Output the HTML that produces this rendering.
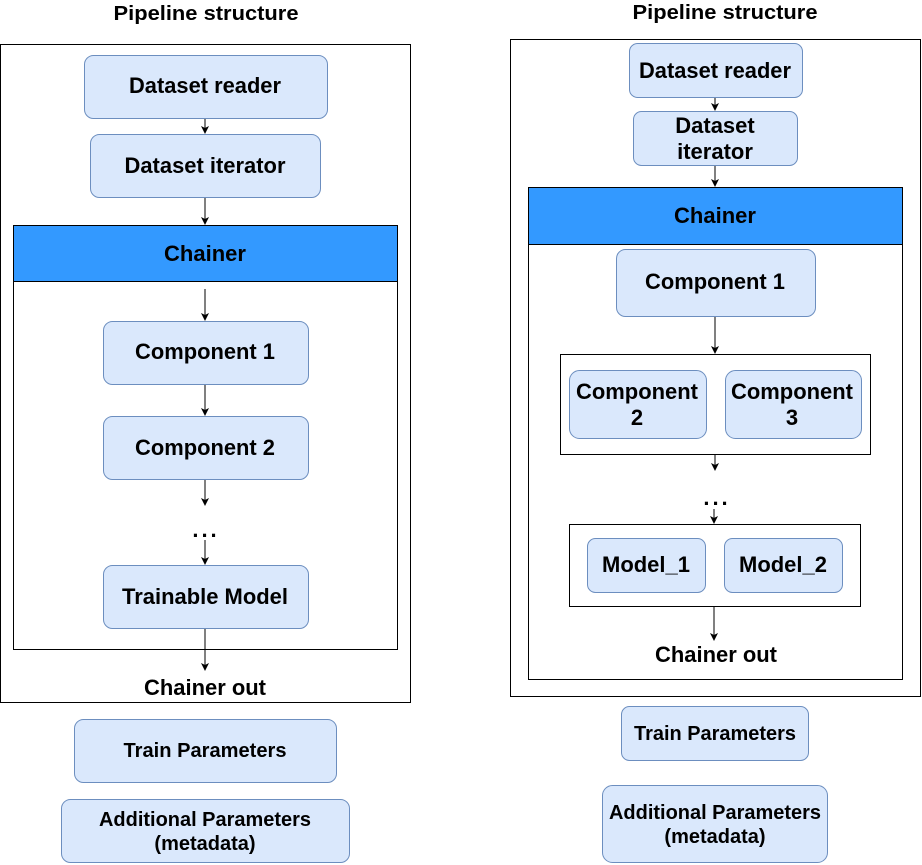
<!DOCTYPE html>
<html><head><meta charset="utf-8"><style>
html,body{margin:0;padding:0;background:#fff;}
svg{display:block;}
text{font-family:"Liberation Sans",sans-serif;font-weight:bold;fill:#000;text-anchor:middle;}
.b{fill:#dae8fc;stroke:#6c8ebf;stroke-width:1;}
.r{fill:none;stroke:#000;stroke-width:1;}
.a{stroke:#000;stroke-width:1;fill:none;}
</style></head><body>
<svg width="922" height="865" viewBox="0 0 922 865" xmlns="http://www.w3.org/2000/svg">
<defs><marker id="m" markerWidth="8" markerHeight="8" refX="7" refY="4" orient="auto" markerUnits="userSpaceOnUse"><path d="M0,0 L8,4 L0,8 L2,4 Z" fill="#000"/></marker></defs>

<!-- LEFT -->
<text x="206" y="20" font-size="20" textLength="185" lengthAdjust="spacingAndGlyphs">Pipeline structure</text>
<rect class="r" x="0.5" y="44.5" width="410" height="658" stroke="#444"/>
<rect class="b" x="84.5" y="55.5" width="243" height="63" rx="9"/>
<text x="205" y="93" font-size="22" textLength="152" lengthAdjust="spacingAndGlyphs">Dataset reader</text>
<line class="a" x1="205" y1="119" x2="205" y2="133" marker-end="url(#m)"/>
<rect class="b" x="90.5" y="134.5" width="230" height="63" rx="9"/>
<text x="205" y="173" font-size="22" textLength="161" lengthAdjust="spacingAndGlyphs">Dataset iterator</text>
<line class="a" x1="205" y1="198" x2="205" y2="224" marker-end="url(#m)"/>
<rect class="r" x="13.5" y="225.5" width="384" height="424"/>
<rect x="13.5" y="225.5" width="384" height="56" fill="#3399ff" stroke="#000"/>
<text x="205" y="261" font-size="22">Chainer</text>
<line class="a" x1="205" y1="289" x2="205" y2="320" marker-end="url(#m)"/>
<rect class="b" x="103.5" y="321.5" width="205" height="63" rx="9"/>
<text x="205" y="359" font-size="22" textLength="140" lengthAdjust="spacingAndGlyphs">Component 1</text>
<line class="a" x1="205" y1="385" x2="205" y2="415" marker-end="url(#m)"/>
<rect class="b" x="103.5" y="416.5" width="205" height="63" rx="9"/>
<text x="205" y="455" font-size="22" textLength="140" lengthAdjust="spacingAndGlyphs">Component 2</text>
<line class="a" x1="205" y1="480" x2="205" y2="505" marker-end="url(#m)"/>
<text x="206" y="537" font-size="22" letter-spacing="3">...</text>
<line class="a" x1="205" y1="540" x2="205" y2="564" marker-end="url(#m)"/>
<rect class="b" x="103.5" y="565.5" width="205" height="63" rx="9"/>
<text x="205" y="604" font-size="22" textLength="166" lengthAdjust="spacingAndGlyphs">Trainable Model</text>
<line class="a" x1="205" y1="629" x2="205" y2="670" marker-end="url(#m)"/>
<text x="205" y="695" font-size="22" textLength="122" lengthAdjust="spacingAndGlyphs">Chainer out</text>
<rect class="b" x="74.5" y="719.5" width="262" height="63" rx="9"/>
<text x="205" y="757" font-size="20" textLength="163" lengthAdjust="spacingAndGlyphs">Train Parameters</text>
<rect class="b" x="61.5" y="799.5" width="288" height="63" rx="9"/>
<text x="205" y="826" font-size="20" textLength="212" lengthAdjust="spacingAndGlyphs">Additional Parameters</text>
<text x="205" y="850" font-size="20">(metadata)</text>

<!-- RIGHT -->
<text x="725" y="19" font-size="20" textLength="185" lengthAdjust="spacingAndGlyphs">Pipeline structure</text>
<rect class="r" x="510.5" y="39.5" width="410" height="657" stroke="#444"/>
<rect class="b" x="629.5" y="43.5" width="173" height="54" rx="8"/>
<text x="715" y="78" font-size="22" textLength="152" lengthAdjust="spacingAndGlyphs">Dataset reader</text>
<line class="a" x1="715" y1="98" x2="715" y2="110" marker-end="url(#m)"/>
<rect class="b" x="633.5" y="111.5" width="164" height="54" rx="8"/>
<text x="715" y="133" font-size="22">Dataset</text>
<text x="715" y="159" font-size="22">iterator</text>
<line class="a" x1="715" y1="166" x2="715" y2="186" marker-end="url(#m)"/>
<rect class="r" x="528.5" y="187.5" width="374" height="492"/>
<rect x="528.5" y="187.5" width="374" height="57" fill="#3399ff" stroke="#000"/>
<text x="715" y="223" font-size="22">Chainer</text>
<rect class="b" x="616.5" y="249.5" width="199" height="67" rx="9"/>
<text x="715" y="289" font-size="22" textLength="140" lengthAdjust="spacingAndGlyphs">Component 1</text>
<line class="a" x1="715" y1="317" x2="715" y2="353" marker-end="url(#m)"/>
<rect class="r" x="560.5" y="354.5" width="310" height="100"/>
<rect class="b" x="569.5" y="370.5" width="137" height="68" rx="10"/>
<text x="637" y="399" font-size="22" textLength="122" lengthAdjust="spacingAndGlyphs">Component</text>
<text x="637" y="425" font-size="22">2</text>
<rect class="b" x="725.5" y="370.5" width="136" height="68" rx="10"/>
<text x="792" y="399" font-size="22" textLength="122" lengthAdjust="spacingAndGlyphs">Component</text>
<text x="792" y="425" font-size="22">3</text>
<line class="a" x1="715" y1="455" x2="715" y2="470" marker-end="url(#m)"/>
<text x="717" y="505" font-size="22" letter-spacing="3">...</text>
<line class="a" x1="714" y1="509" x2="714" y2="523" marker-end="url(#m)"/>
<rect class="r" x="569.5" y="524.5" width="291" height="82" stroke="#333"/>
<rect class="b" x="587.5" y="538.5" width="118" height="54" rx="8"/>
<text x="646" y="572" font-size="22" textLength="88" lengthAdjust="spacingAndGlyphs">Model_1</text>
<rect class="b" x="724.5" y="538.5" width="118" height="54" rx="8"/>
<text x="783" y="572" font-size="22" textLength="88" lengthAdjust="spacingAndGlyphs">Model_2</text>
<line class="a" x1="714" y1="607" x2="714" y2="640" marker-end="url(#m)"/>
<text x="716" y="662" font-size="22" textLength="122" lengthAdjust="spacingAndGlyphs">Chainer out</text>
<rect class="b" x="621.5" y="706.5" width="187" height="54" rx="8"/>
<text x="715" y="740" font-size="20" textLength="162" lengthAdjust="spacingAndGlyphs">Train Parameters</text>
<rect class="b" x="602.5" y="785.5" width="225" height="77" rx="10"/>
<text x="715" y="819" font-size="20" textLength="212" lengthAdjust="spacingAndGlyphs">Additional Parameters</text>
<text x="715" y="843" font-size="20">(metadata)</text>
</svg>
</body></html>
